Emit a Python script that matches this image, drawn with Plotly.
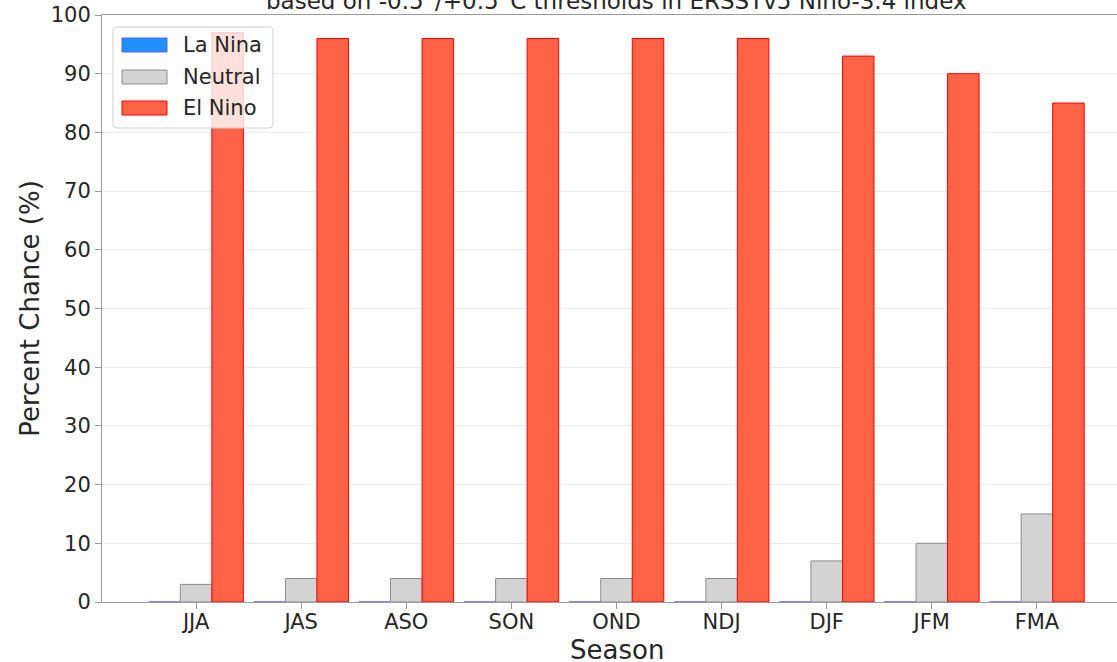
import plotly.graph_objects as go

seasons = ["JJA", "JAS", "ASO", "SON", "OND", "NDJ", "DJF", "JFM", "FMA"]
la_nina = [0, 0, 0, 0, 0, 0, 0, 0, 0]
neutral = [3, 4, 4, 4, 4, 4, 7, 10, 15]
el_nino = [97, 96, 96, 96, 96, 96, 93, 90, 85]
y_ticks = [0, 10, 20, 30, 40, 50, 60, 70, 80, 90, 100]

series_names = ["La Nina", "Neutral", "El Nino"]
fill_colors = ["#1E90FF", "#D3D3D3", "#FF6347"]
edge_colors = ["#5a5aff", "#8c8c8c", "#ff0000"]

W, H = 1117, 662
L, R, T, B = 102, 0, 15, 60
pw, ph = W - L - R, H - T - B

FONT = "DejaVu Sans"
TXT = "#262626"

fig = go.Figure()
for name, vals, fc, ec in zip(series_names, [la_nina, neutral, el_nino], fill_colors, edge_colors):
    fig.add_trace(go.Bar(
        x=seasons, y=vals, name=name,
        marker=dict(color=fc, line=dict(color=ec, width=1)),
        showlegend=False,
    ))


def px_x(p):
    return (p - L) / pw


def px_y(p):
    return (H - B - p) / ph


def rounded_rect(xa, xb, ya, yb, r):
    # pixel coords -> paper path with rounded corners
    X = lambda p: f"{px_x(p):.5f}"
    Y = lambda p: f"{px_y(p):.5f}"
    return (f"M {X(xa + r)},{Y(ya)} L {X(xb - r)},{Y(ya)} Q {X(xb)},{Y(ya)} {X(xb)},{Y(ya + r)} "
            f"L {X(xb)},{Y(yb - r)} Q {X(xb)},{Y(yb)} {X(xb - r)},{Y(yb)} "
            f"L {X(xa + r)},{Y(yb)} Q {X(xa)},{Y(yb)} {X(xa)},{Y(yb - r)} "
            f"L {X(xa)},{Y(ya + r)} Q {X(xa)},{Y(ya)} {X(xa + r)},{Y(ya)} Z")


shapes = []
annotations = []

# legend box
shapes.append(dict(type="path", xref="paper", yref="paper", path=rounded_rect(113, 273, 27, 128, 4),
                   fillcolor="rgba(255,255,255,0.8)", line=dict(color="#d0d0d0", width=1), layer="above"))
rows = [45, 77, 108]
for name, fc, ec, ry in zip(series_names, fill_colors, edge_colors, rows):
    shapes.append(dict(type="rect", xref="paper", yref="paper",
                       x0=px_x(122), x1=px_x(167), y0=px_y(ry + 7), y1=px_y(ry - 7),
                       fillcolor=fc, line=dict(color=ec, width=1), layer="above"))
    annotations.append(dict(text=name, xref="paper", yref="paper", x=px_x(181), y=px_y(ry),
                            xanchor="left", yanchor="middle", showarrow=False,
                            font=dict(family=FONT, size=21, color=TXT)))

annotations.append(dict(text="based on -0.5°/+0.5°C thresholds in ERSSTv5 Nino-3.4 index",
                        xref="paper", yref="paper", x=(616.5 - L) / pw, y=px_y(1),
                        xanchor="center", yanchor="middle", showarrow=False,
                        font=dict(family=FONT, size=23, color=TXT)))

# x-axis title (placed like the reference, partly below the page edge)
annotations.append(dict(text="Season", xref="paper", yref="paper", x=(616.5 - L) / pw, y=px_y(650),
                        xanchor="center", yanchor="middle", showarrow=False,
                        font=dict(family=FONT, size=26, color=TXT)))

fig.update_layout(
    width=W, height=H,
    margin=dict(l=L, r=R, t=T, b=B, pad=0, autoexpand=False),
    paper_bgcolor="white", plot_bgcolor="white",
    barmode="group", bargap=0.1, bargroupgap=0,
    font=dict(family=FONT, color=TXT),
    shapes=shapes, annotations=annotations,
)
fig.update_xaxes(
    range=[-0.895, 8.762], automargin=False,
    showline=True, linecolor="#999999", linewidth=1, mirror=True,
    ticks="outside", ticklen=6, tickcolor="#999999",
    tickfont=dict(family=FONT, size=21, color=TXT), ticklabelstandoff=-5,
    showgrid=False, zeroline=False,
)
fig.update_yaxes(
    range=[0, 100], tickvals=y_ticks, automargin=False,
    showline=True, linecolor="#999999", linewidth=1, mirror=False,
    ticks="outside", ticklen=6, tickcolor="#999999",
    tickfont=dict(family=FONT, size=21, color=TXT),
    showgrid=True, gridcolor="#ebebeb", gridwidth=1, zeroline=False,
    title=dict(text="Percent Chance (%)", font=dict(family=FONT, size=26, color=TXT), standoff=3),
)

fig.write_html("out.html", config={"displayModeBar": False},
               post_script="document.body.style.margin='0';")
